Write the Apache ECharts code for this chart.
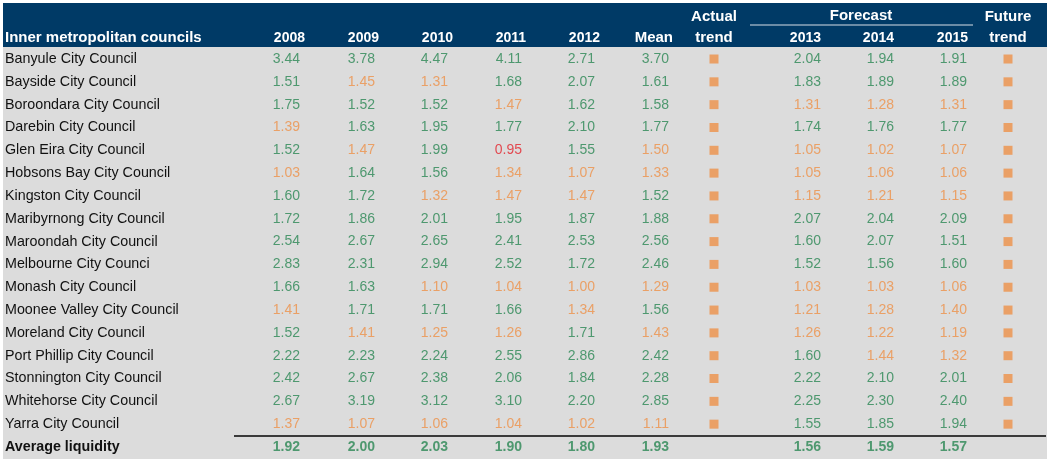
<!DOCTYPE html>
<html>
<head>
<meta charset="utf-8">
<script src="https://cdn.jsdelivr.net/npm/echarts@6/dist/echarts.min.js"></script>
<style>
html,body{margin:0;padding:0;background:#ffffff;}
#chart{width:1050px;height:462px;}
</style>
</head>
<body>
<div id="chart"></div>
<script>
// ---------- DATA ----------
var councils = [
  'Banyule City Council','Bayside City Council','Boroondara City Council','Darebin City Council',
  'Glen Eira City Council','Hobsons Bay City Council','Kingston City Council','Maribyrnong City Council',
  'Maroondah City Council','Melbourne City Counci','Monash City Council','Moonee Valley City Council',
  'Moreland City Council','Port Phillip City Council','Stonnington City Council','Whitehorse City Council',
  'Yarra City Council'
];
var averageLabel = 'Average liquidity';
var columnHeaders = ['2008','2009','2010','2011','2012','Mean','2013','2014','2015'];
var v2008 = [3.44,1.51,1.75,1.39,1.52,1.03,1.60,1.72,2.54,2.83,1.66,1.41,1.52,2.22,2.42,2.67,1.37];
var v2009 = [3.78,1.45,1.52,1.63,1.47,1.64,1.72,1.86,2.67,2.31,1.63,1.71,1.41,2.23,2.67,3.19,1.07];
var v2010 = [4.47,1.31,1.52,1.95,1.99,1.56,1.32,2.01,2.65,2.94,1.10,1.71,1.25,2.24,2.38,3.12,1.06];
var v2011 = [4.11,1.68,1.47,1.77,0.95,1.34,1.47,1.95,2.41,2.52,1.04,1.66,1.26,2.55,2.06,3.10,1.04];
var v2012 = [2.71,2.07,1.62,2.10,1.55,1.07,1.47,1.87,2.53,1.72,1.00,1.34,1.71,2.86,1.84,2.20,1.02];
var vMean = [3.70,1.61,1.58,1.77,1.50,1.33,1.52,1.88,2.56,2.46,1.29,1.56,1.43,2.42,2.28,2.85,1.11];
var f2013 = [2.04,1.83,1.31,1.74,1.05,1.05,1.15,2.07,1.60,1.52,1.03,1.21,1.26,1.60,2.22,2.25,1.55];
var f2014 = [1.94,1.89,1.28,1.76,1.02,1.06,1.21,2.04,2.07,1.56,1.03,1.28,1.22,1.44,2.10,2.30,1.85];
var f2015 = [1.91,1.89,1.31,1.77,1.07,1.06,1.15,2.09,1.51,1.60,1.06,1.40,1.19,1.32,2.01,2.40,1.94];
var averages = [1.92,2.00,2.03,1.90,1.80,1.93,1.56,1.59,1.57];

// ---------- LAYOUT / STYLE ----------
var columns = [v2008,v2009,v2010,v2011,v2012,vMean,f2013,f2014,f2015];
var colRight = [300,375,448,522,595,669,821,894,967];     // right edge of number text
var hdrRight = [305,379,453,526,600,673,821,894,968];
var trendX = [714,1008];
var GREEN = '#2a8754', ORANGE = '#ee9148', RED = '#e3242d', NAVY = '#003a66', GREY = '#dcdcdc';
var FONT = '"Liberation Sans", Arial, sans-serif';
function colourOf(v){ return v < 1 ? RED : (v <= 1.5 ? ORANGE : GREEN); }

var rows = councils.concat([averageLabel]);

var cellData = [];
columns.forEach(function(col, j){
  col.forEach(function(v, i){
    cellData.push({value:[colRight[j], rows[i], v], label:{color: colourOf(v)}});
  });
  cellData.push({value:[colRight[j], averageLabel, averages[j]], label:{color: GREEN, fontWeight:'bold'}});
});
var squareData = [];
councils.forEach(function(c){
  trendX.forEach(function(x){ squareData.push([x, c]); });
});

var HF = 'bold 15px ' + FONT;
var graphics = [
  {type:'rect', shape:{x:3,y:3,width:1044,height:44}, style:{fill:NAVY}, z:-10},
  {type:'rect', shape:{x:3,y:47,width:1044,height:412}, style:{fill:GREY}, z:-10},
  {type:'line', shape:{x1:234,y1:436,x2:1046,y2:436}, style:{stroke:'#3a3a3a', lineWidth:2}},
  {type:'line', shape:{x1:750,y1:25,x2:973,y2:25}, style:{stroke:'#d8dee6', lineWidth:1}},
  {type:'text', x:5, y:38, style:{text:'Inner metropolitan councils', fill:'#fff', font:HF, textVerticalAlign:'middle'}},
  {type:'text', x:714, y:17, style:{text:'Actual', fill:'#fff', font:HF, textAlign:'center', textVerticalAlign:'middle'}},
  {type:'text', x:714, y:38, style:{text:'trend', fill:'#fff', font:HF, textAlign:'center', textVerticalAlign:'middle'}},
  {type:'text', x:861, y:16, style:{text:'Forecast', fill:'#fff', font:HF, textAlign:'center', textVerticalAlign:'middle'}},
  {type:'text', x:1008, y:17, style:{text:'Future', fill:'#fff', font:HF, textAlign:'center', textVerticalAlign:'middle'}},
  {type:'text', x:1008, y:38, style:{text:'trend', fill:'#fff', font:HF, textAlign:'center', textVerticalAlign:'middle'}}
];
columnHeaders.forEach(function(h, j){
  graphics.push({type:'text', x:hdrRight[j], y:38, style:{text:h, fill:'#fff', font:(h === 'Mean' ? HF : 'bold 14px ' + FONT), textAlign:'right', textVerticalAlign:'middle'}});
});

var chart = echarts.init(document.getElementById('chart'), null, {renderer:'canvas'});
chart.setOption({
  animation:false,
  backgroundColor:'#ffffff',
  grid:{left:0, right:0, top:47.6, bottom:3.6},
  xAxis:{type:'value', min:0, max:1050, show:false},
  yAxis:{
    type:'category', data:rows, inverse:true,
    axisLine:{show:false}, axisTick:{show:false}, splitLine:{show:false},
    axisLabel:{
      inside:true, margin:5, align:'left', fontFamily:FONT, fontSize:14.3, color:'#111',
      formatter:function(v){ return v === averageLabel ? '{b|' + v + '}' : v; },
      rich:{b:{fontWeight:'bold', fontSize:14.3, fontFamily:FONT, color:'#111'}}
    }
  },
  graphic:graphics,
  series:[
    {
      type:'scatter', data:cellData, symbolSize:0, silent:true,
      label:{show:true, position:'left', distance:0, fontFamily:FONT, fontSize:14,
        formatter:function(p){ return p.value[2].toFixed(2); }}
    },
    {
      type:'scatter', data:squareData, symbol:'rect', symbolSize:9, silent:true,
      itemStyle:{color:ORANGE}
    }
  ]
});
</script>
</body>
</html>
